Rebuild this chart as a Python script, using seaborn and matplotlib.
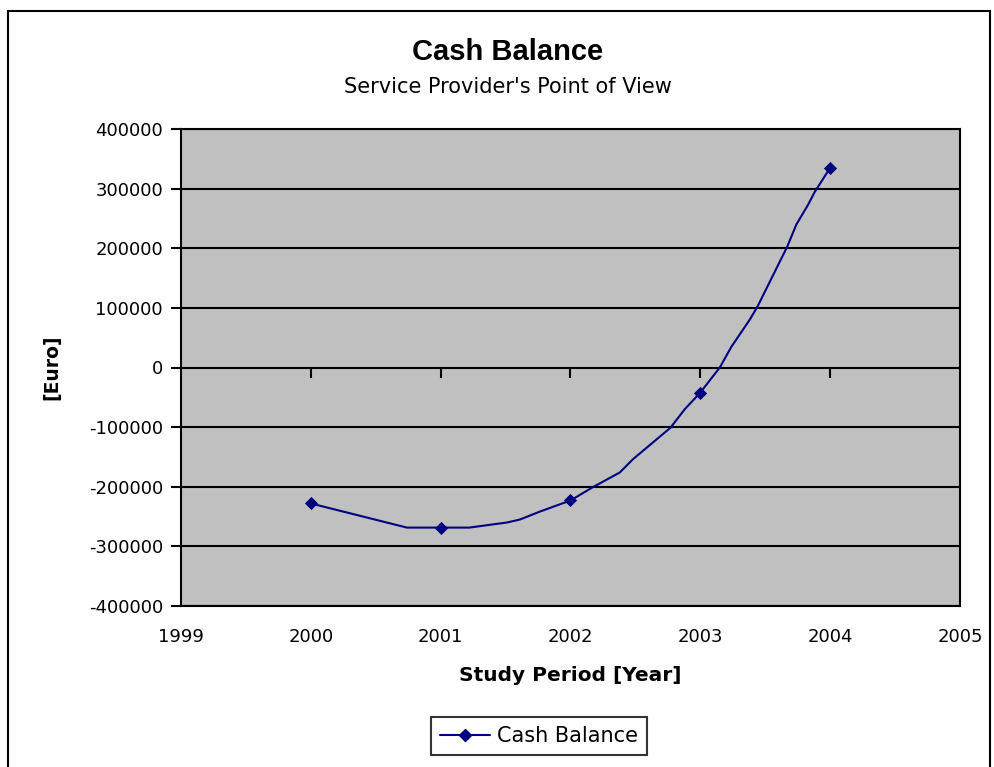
"""Cash balance curve, service provider's point of view."""

import numpy as np
import matplotlib
matplotlib.use("Agg")
import matplotlib.pyplot as plt
from matplotlib.lines import Line2D
from matplotlib.patches import Rectangle
import pandas as pd
import seaborn as sns

# Yearly values (diamond markers)
years = [2000, 2001, 2002, 2003, 2004]
cash_balance = [-228000, -268500, -223000, -42000, 335000]

# Smoothed curve as drawn in the source chart (vertices)
curve_years = [2000.00, 2000.74, 2001.00, 2001.22, 2001.51, 2001.61, 2001.76,
               2002.00, 2002.17, 2002.38, 2002.48, 2002.77, 2002.88, 2003.00,
               2003.15, 2003.24, 2003.38, 2003.44, 2003.67, 2003.74, 2003.83,
               2003.88, 2004.00]
curve_values = [-228000, -268500, -268500, -268500, -260000, -255000, -242000,
                -223000, -201000, -176000, -154000, -101000, -70000, -42000,
                0, 35000, 80000, 102000, 203000, 240000, 273000,
                294000, 335000]

x_ticks = [1999, 2000, 2001, 2002, 2003, 2004, 2005]
y_ticks = [-400000, -300000, -200000, -100000, 0, 100000, 200000, 300000, 400000]

LINE_COLOR = "#000080"

sns.set_theme(style="white")
plt.rcParams["font.family"] = ["DejaVu Sans"]
plt.rcParams["axes.unicode_minus"] = False
plt.rcParams["text.color"] = "black"
plt.rcParams["axes.labelcolor"] = "black"
plt.rcParams["xtick.color"] = "black"
plt.rcParams["ytick.color"] = "black"

fig = plt.figure(figsize=(9.95, 7.67), dpi=100)
ax = fig.add_axes([181 / 995, 1 - 606 / 767, (960 - 181) / 995, (606 - 129) / 767])
ax.set_facecolor("#C0C0C0")

curve = pd.DataFrame({"year": curve_years, "value": curve_values})
points = pd.DataFrame({"year": years, "value": cash_balance})

sns.lineplot(data=curve, x="year", y="value", color=LINE_COLOR, linewidth=1.5,
             sort=False, ax=ax, legend=False)
sns.scatterplot(data=points, x="year", y="value", color=LINE_COLOR, marker="D",
                s=45, edgecolor=LINE_COLOR, linewidth=0, ax=ax, legend=False, zorder=5)

ax.set_xlim(1999, 2005)
ax.set_ylim(-400000, 400000)
ax.set_xticks(x_ticks)
ax.set_yticks(y_ticks)
ax.yaxis.grid(True, color="black", linewidth=1.5)
ax.xaxis.grid(False)
for sp in ax.spines.values():
    sp.set_color("black")
    sp.set_linewidth(1.5)

ax.tick_params(axis="y", direction="out", length=7, width=1.5, color="black",
               labelsize=13, pad=6, left=True)
ax.tick_params(axis="x", length=0, labelsize=13, pad=16)

# x-axis tick marks sit on the zero line, labels stay at the bottom
sec = ax.secondary_xaxis(0.5)
sec.set_xticks(x_ticks[1:-1])
sec.xaxis.set_ticks_position("bottom")
sec.tick_params(axis="x", which="both", direction="out", length=7, width=1.5,
                color="black", top=False, bottom=True,
                labeltop=False, labelbottom=False)
for sp in sec.spines.values():
    sp.set_visible(False)

ax.set_xlabel("Study Period [Year]", fontsize=14.5, fontweight="bold", labelpad=14)
ax.set_ylabel("[Euro]", fontsize=13.5, fontweight="bold", labelpad=20)

fig.text(508 / 995, 1 - 52 / 767, "Cash Balance", ha="center", va="center",
         fontsize=21, fontweight="bold", family=["Liberation Sans"])
fig.text(508 / 995, 1 - 87 / 767, "Service Provider's Point of View", ha="center",
         va="center", fontsize=15)

handle = Line2D([], [], color=LINE_COLOR, linewidth=1.5, marker="D", markersize=6)
leg = fig.legend([handle], ["Cash Balance"], loc="center",
                 bbox_to_anchor=(539 / 995, 1 - 736 / 767), fontsize=15,
                 frameon=True, fancybox=False, handlelength=2.4, borderpad=0.45,
                 handletextpad=0.3, borderaxespad=0)
leg.get_frame().set_edgecolor("black")
leg.get_frame().set_linewidth(1.5)

# outer chart border
fig.patches.append(Rectangle((8 / 995, -0.05), (990 - 8) / 995, 1.05 - 11 / 767,
                             transform=fig.transFigure, fill=False,
                             edgecolor="black", linewidth=1.5))

fig.savefig("out.png", dpi=100)
